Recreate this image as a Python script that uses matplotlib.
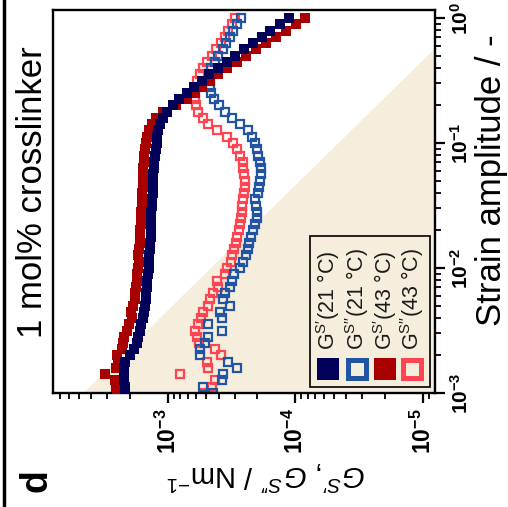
import matplotlib
matplotlib.use('Agg')
import matplotlib.pyplot as plt
from matplotlib.patches import Rectangle
from matplotlib.lines import Line2D
from matplotlib.ticker import FixedLocator, FixedFormatter, LogLocator, NullFormatter

plt.rcParams['font.family'] = ['Liberation Sans', 'DejaVu Sans']
plt.rcParams['mathtext.fontset'] = 'custom'
plt.rcParams['mathtext.rm'] = 'Liberation Sans'
plt.rcParams['mathtext.it'] = 'Liberation Sans:italic'
plt.rcParams['mathtext.bf'] = 'Liberation Sans:bold'

# strain amplitude (-), 20 points per decade
strain = [0.00100, 0.00112, 0.00126, 0.00141, 0.00158, 0.00178, 0.00200, 0.00224, 0.00251, 0.00282,
          0.00316, 0.00355, 0.00398, 0.00447, 0.00501, 0.00562, 0.00631, 0.00708, 0.00794, 0.00891,
          0.0100, 0.0112, 0.0126, 0.0141, 0.0158, 0.0178, 0.0200, 0.0224, 0.0251, 0.0282,
          0.0316, 0.0355, 0.0398, 0.0447, 0.0501, 0.0562, 0.0631, 0.0708, 0.0794, 0.0891,
          0.100, 0.112, 0.126, 0.141, 0.158, 0.178, 0.200, 0.224, 0.251, 0.282,
          0.316, 0.355, 0.398, 0.447, 0.501, 0.562, 0.631, 0.708, 0.794, 0.891, 1.00]

# surface moduli (N/m)
gs1_21 = [2.17e-3, 2.17e-3, 2.21e-3, 2.21e-3, 2.21e-3, 2.17e-3, 1.99e-3, 1.85e-3, 1.75e-3, 1.72e-3,
          1.67e-3, 1.63e-3, 1.57e-3, 1.53e-3, 1.52e-3, 1.49e-3, 1.49e-3, 1.46e-3, 1.45e-3, 1.44e-3,
          1.42e-3, 1.41e-3, 1.40e-3, 1.38e-3, 1.38e-3, 1.37e-3, 1.36e-3, 1.36e-3, 1.35e-3, 1.35e-3,
          1.34e-3, 1.34e-3, 1.32e-3, 1.31e-3, 1.31e-3, 1.30e-3, 1.29e-3, 1.28e-3, 1.26e-3, 1.25e-3,
          1.23e-3, 1.22e-3, 1.20e-3, 1.16e-3, 1.09e-3, 1.02e-3, 9.14e-4, 8.20e-4, 7.10e-4, 6.25e-4,
          5.41e-4, 4.77e-4, 4.05e-4, 3.45e-4, 2.98e-4, 2.53e-4, 2.15e-4, 1.83e-4, 1.58e-4, 1.32e-4, 1.12e-4]
gs2_21 = [4.44e-4, 5.32e-4, 3.77e-4, 3.70e-4, 2.88e-4, 3.38e-4, 5.61e-4, 5.61e-4, 5.13e-4, 4.86e-4,
          3.77e-4, 4.86e-4, 3.77e-4, 3.91e-4, 3.27e-4, 3.70e-4, 3.57e-4, 3.27e-4, 3.15e-4, 3.04e-4,
          2.73e-4, 2.58e-4, 2.44e-4, 2.36e-4, 2.32e-4, 2.23e-4, 2.15e-4, 2.08e-4, 2.00e-4, 2.00e-4,
          2.04e-4, 2.08e-4, 1.97e-4, 1.93e-4, 1.90e-4, 1.86e-4, 1.86e-4, 1.90e-4, 1.97e-4, 2.00e-4,
          2.08e-4, 2.19e-4, 2.36e-4, 2.73e-4, 3.15e-4, 3.57e-4, 3.98e-4, 4.36e-4, 4.60e-4, 4.69e-4,
          4.69e-4, 4.69e-4, 4.60e-4, 4.28e-4, 4.05e-4, 3.70e-4, 3.51e-4, 3.27e-4, 3.09e-4, 2.88e-4, 2.68e-4]
gs1_43 = [2.51e-3, 2.56e-3, 2.60e-3, 3.12e-3, 2.56e-3, 2.47e-3, 2.51e-3, 2.30e-3, 2.25e-3, 2.21e-3,
          2.10e-3, 2.02e-3, 1.92e-3, 1.95e-3, 1.88e-3, 1.83e-3, 1.80e-3, 1.78e-3, 1.75e-3, 1.75e-3,
          1.72e-3, 1.70e-3, 1.72e-3, 1.69e-3, 1.67e-3, 1.66e-3, 1.66e-3, 1.64e-3, 1.63e-3, 1.63e-3,
          1.61e-3, 1.60e-3, 1.60e-3, 1.58e-3, 1.57e-3, 1.57e-3, 1.56e-3, 1.54e-3, 1.53e-3, 1.52e-3,
          1.49e-3, 1.46e-3, 1.41e-3, 1.34e-3, 1.24e-3, 1.09e-3, 8.66e-4, 7.10e-4, 6.14e-4, 5.41e-4,
          4.69e-4, 4.05e-4, 3.45e-4, 2.88e-4, 2.44e-4, 2.04e-4, 1.70e-4, 1.42e-4, 1.19e-4, 9.91e-5, 8.42e-5]
gs2_43 = [5.22e-4, 4.52e-4, 4.28e-4, 8.05e-4, 4.86e-4, 4.95e-4, 3.84e-4, 4.28e-4, 5.71e-4, 5.93e-4,
          6.14e-4, 5.82e-4, 5.51e-4, 5.32e-4, 4.86e-4, 4.69e-4, 4.44e-4, 4.05e-4, 4.13e-4, 3.57e-4,
          3.45e-4, 3.21e-4, 3.15e-4, 3.04e-4, 2.93e-4, 2.88e-4, 2.77e-4, 2.73e-4, 2.68e-4, 2.63e-4,
          2.63e-4, 2.58e-4, 2.53e-4, 2.49e-4, 2.49e-4, 2.53e-4, 2.58e-4, 2.58e-4, 2.73e-4, 2.88e-4,
          3.09e-4, 3.45e-4, 4.13e-4, 4.86e-4, 5.32e-4, 5.82e-4, 6.03e-4, 6.14e-4, 6.14e-4, 6.03e-4,
          5.93e-4, 5.61e-4, 5.32e-4, 4.95e-4, 4.52e-4, 4.20e-4, 3.84e-4, 3.57e-4, 3.38e-4, 3.15e-4, 2.98e-4]

legend_labels = [r'G$^{\mathrm{S\prime}}$(21 °C)', r'G$^{\mathrm{S\prime\prime}}$(21 °C)',
                 r'G$^{\mathrm{S\prime}}$(43 °C)', r'G$^{\mathrm{S\prime\prime}}$(43 °C)']
colors = ['#000058', '#2254A4', '#A80000', '#FF4452']
filled = [True, False, True, False]

# instrument limit (constant stress line), lower right region shaded
stress_limit = 4.6e-6
limit_strain = [1e-3, 1.2]

fig = plt.figure(figsize=(5.08, 5.07), dpi=100)
ax = fig.add_axes([53/508, 1-393/507, 382/508, 383/507])
ax.set_xscale('log')
ax.set_yscale('log')

lim_g = [stress_limit/s for s in limit_strain]
ax.fill_betweenx(limit_strain, lim_g, [1e-7, 1e-7], color='#F5EEDC', lw=0, zorder=0)

series = [gs2_43, gs2_21, gs1_43, gs1_21]
order = [3, 1, 2, 0]
for data, i in zip(series, order):
    if filled[i]:
        ax.plot(data, strain, 's', ms=6.5, color=colors[i], mew=0, zorder=3)
    else:
        ax.plot(data, strain, 's', ms=6, mfc='none', mec=colors[i], mew=1.6, zorder=2)

ax.set_xlim(7.98e-3, 8.05e-6)
ax.set_ylim(1e-3, 1.16)

ax.xaxis.set_major_locator(FixedLocator([1e-3, 1e-4, 1e-5]))
ax.xaxis.set_major_formatter(FixedFormatter([r'$\mathbf{10^{-3}}$', r'$\mathbf{10^{-4}}$', r'$\mathbf{10^{-5}}$']))
ax.xaxis.set_minor_locator(LogLocator(base=10, subs=range(2, 10), numticks=20))
ax.xaxis.set_minor_formatter(NullFormatter())
ax.yaxis.tick_right()
ax.yaxis.set_major_locator(FixedLocator([1e-3, 1e-2, 1e-1, 1e0]))
ax.yaxis.set_major_formatter(FixedFormatter([r'$\mathbf{10^{-3}}$', r'$\mathbf{10^{-2}}$', r'$\mathbf{10^{-1}}$', r'$\mathbf{10^{0}}$']))
ax.yaxis.set_minor_locator(LogLocator(base=10, subs=range(2, 10), numticks=20))
ax.yaxis.set_minor_formatter(NullFormatter())

ax.tick_params(which='both', direction='out', top=False, left=False, right=True, bottom=True, width=1.6)
ax.tick_params(which='major', length=7)
ax.tick_params(which='minor', length=4, width=1.3)
ax.tick_params(axis='x', labelrotation=90, pad=4, labelsize=16.5)
ax.tick_params(axis='y', labelrotation=90, pad=4, labelsize=15)
plt.setp(ax.get_yticklabels(), va='center')
for sp in ax.spines.values():
    sp.set_linewidth(1.7)

# legend drawn rotated like the rest of the panel
ax.add_patch(Rectangle((0.673, 0.016), 0.314, 0.394, transform=ax.transAxes,
                       fill=False, ec='#111111', lw=1.3, zorder=4))
col_x = [0.720, 0.796, 0.869, 0.940]
for i in range(4):
    if filled[i]:
        ax.plot([col_x[i]], [0.063], 's', ms=16, color=colors[i], mew=0,
                transform=ax.transAxes, clip_on=False, zorder=5)
    else:
        ax.plot([col_x[i]], [0.063], 's', ms=13.5, mfc='none', mec=colors[i], mew=3.6,
                transform=ax.transAxes, clip_on=False, zorder=5)
    ax.text(col_x[i], 0.112, legend_labels[i], rotation=90, rotation_mode='anchor',
            ha='left', va='center', fontsize=15.5, color='#1a1a1a', transform=ax.transAxes, zorder=5)

fig.text(33/508, 1-192/507, '1 mol% crosslinker', rotation=90, fontsize=25, ha='center', va='center')
fig.text(501/508, 1-180/507, 'Strain amplitude / -', rotation=90, rotation_mode='anchor',
         fontsize=25, ha='center', va='baseline')
fig.text(266/508, 1-465/507, r'$G^{S\prime}$, $G^{S\prime\prime}$ / Nm$^{-1}$', rotation=180,
         rotation_mode='anchor', fontsize=21, ha='center', va='baseline')
fig.text(47/508, 1-481/507, 'd', rotation=90, rotation_mode='anchor', fontsize=27,
         fontweight='bold', ha='center', va='baseline')
fig.add_artist(Line2D([4/508, 4/508], [0, 1], transform=fig.transFigure, lw=2.5, color='k'))

fig.savefig('out.png', dpi=100)
